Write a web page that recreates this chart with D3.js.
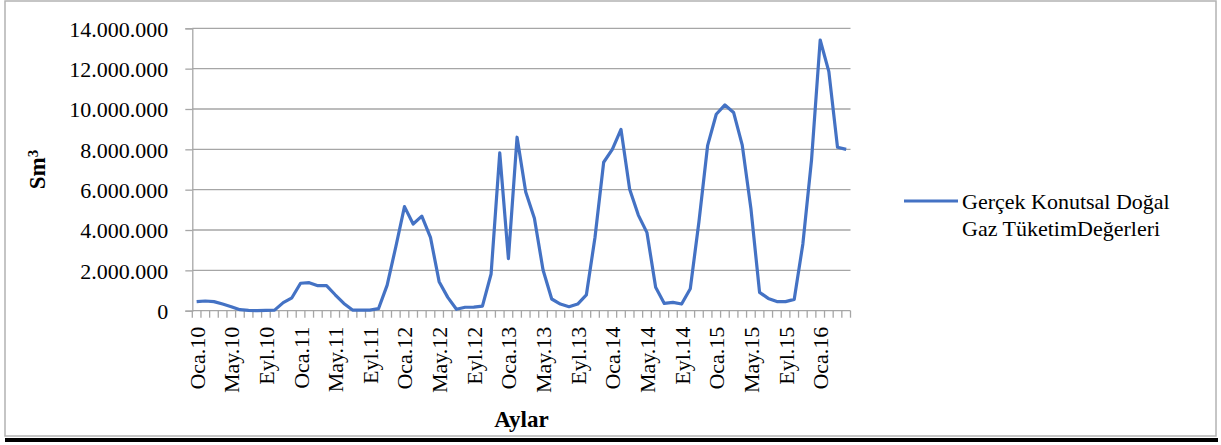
<!DOCTYPE html>
<html>
<head>
<meta charset="utf-8">
<script src="https://cdn.jsdelivr.net/npm/d3@7"></script>
<style>
  body { margin: 0; background: #fff; }
  svg { display: block; }
  svg text { font-family: "Liberation Serif", "Times New Roman", Tinos, "DejaVu Serif", serif !important; fill: #000; }
</style>
</head>
<body>
<svg id="chart" width="1221" height="445"></svg>
<script>
// month names and years used for the category labels
const monthNames = ["Oca", "Şub", "Mar", "Nis", "May", "Haz", "Tem", "Ağu", "Eyl", "Eki", "Kas", "Ara"];
const years = ["10", "11", "12", "13", "14", "15", "16"];

// monthly values (Sm3), Oca.10 .. Nis.16
const consumption = [
  450000, 480000, 450000, 330000, 200000, 50000, 20000, 0, 20000, 30000, 400000, 640000,
  1360000, 1390000, 1240000, 1240000, 790000, 360000, 30000, 30000, 30000, 100000, 1270000, 3170000,
  5160000, 4300000, 4690000, 3640000, 1440000, 660000, 70000, 170000, 180000, 230000, 1820000, 7830000,
  2580000, 8600000, 5880000, 4580000, 2020000, 580000, 330000, 200000, 330000, 780000, 3640000, 7360000,
  8000000, 8990000, 6020000, 4740000, 3870000, 1160000, 360000, 410000, 330000, 1090000, 4410000, 8180000,
  9740000, 10200000, 9830000, 8210000, 5070000, 910000, 610000, 450000, 450000, 560000, 3310000, 7470000,
  13420000, 11850000, 8100000, 8000000
];

const yTicks = [0, 2000000, 4000000, 6000000, 8000000, 10000000, 12000000, 14000000];
const seriesName = ["Gerçek Konutsal Doğal", "Gaz TüketimDeğerleri"];

const categories = consumption.map((d, i) => monthNames[i % 12] + "." + years[Math.floor(i / 12)]);

const svg = d3.select("#chart");

// outer frame and the dark strip below it
svg.append("rect")
  .attr("x", 5).attr("y", 438).attr("width", 1213).attr("height", 4)
  .attr("fill", "#000");
svg.append("rect")
  .attr("x", 5).attr("y", 1).attr("width", 1211).attr("height", 435)
  .attr("fill", "#fff").attr("stroke", "#b3b3b3").attr("stroke-width", 1.5);

const plotLeft = 192.3, plotRight = 850.5, plotTop = 28.3, plotBottom = 310.7;

const x = d3.scaleBand()
  .domain(categories)
  .range([plotLeft, plotRight])
  .padding(0);

const y = d3.scaleLinear()
  .domain([0, 14000000])
  .range([plotBottom, plotTop]);

const tr = d3.formatLocale({decimal: ",", thousands: ".", grouping: [3], currency: ["", ""]});
const fmt = tr.format(",.0f");

// gridlines
svg.append("g")
  .selectAll("line")
  .data(yTicks.filter(d => d > 0))
  .enter()
  .append("line")
  .attr("x1", plotLeft).attr("x2", plotRight)
  .attr("y1", d => y(d)).attr("y2", d => y(d))
  .attr("stroke", "#a6a6a6")
  .attr("stroke-width", 1.3);

// y axis
const yAxis = svg.append("g")
  .attr("transform", "translate(" + plotLeft + ",0)")
  .call(d3.axisLeft(y).tickValues(yTicks).tickFormat(fmt).tickSize(7).tickPadding(17));
yAxis.attr("font-family", null);
yAxis.select(".domain").attr("stroke", "#a6a6a6").attr("stroke-width", 1.3);
yAxis.selectAll(".tick line").attr("stroke", "#a6a6a6").attr("stroke-width", 1.3);
yAxis.selectAll("text")
  .style("font-size", "22px")
  .attr("dy", "0.35em")
  .attr("fill", "#000");

// x axis: ticks on category boundaries
const xg = svg.append("g");
xg.append("line")
  .attr("x1", plotLeft).attr("x2", plotRight)
  .attr("y1", plotBottom).attr("y2", plotBottom)
  .attr("stroke", "#a6a6a6").attr("stroke-width", 1.3);
xg.selectAll("line.tk")
  .data(categories.concat(["end"]))
  .enter()
  .append("line")
  .attr("class", "tk")
  .attr("x1", (d, i) => plotLeft + i * x.bandwidth())
  .attr("x2", (d, i) => plotLeft + i * x.bandwidth())
  .attr("y1", plotBottom).attr("y2", plotBottom + 7)
  .attr("stroke", "#a6a6a6").attr("stroke-width", 1.3);

xg.selectAll("text")
  .data(categories.filter((d, i) => i % 4 === 0))
  .enter()
  .append("text")
  .attr("transform", d => "translate(" + (x(d) + x.bandwidth() / 2 + 8) + "," + (plotBottom + 16) + ") rotate(-90)")
  .attr("text-anchor", "end")
  .style("font-size", "22px")
  .text(d => d);

// series line
const line = d3.line()
  .x((d, i) => x(categories[i]) + x.bandwidth() / 2)
  .y(d => y(d));

svg.append("path")
  .datum(consumption)
  .attr("d", line)
  .attr("fill", "none")
  .attr("stroke", "#4472C4")
  .attr("stroke-width", 3.2)
  .attr("stroke-linejoin", "round");

// axis titles
svg.append("text")
  .attr("x", (plotLeft + plotRight) / 2)
  .attr("y", 427)
  .attr("text-anchor", "middle")
  .style("font-size", "23px")
  .style("font-weight", "bold")
  .text("Aylar");

const yt = svg.append("text")
  .attr("transform", "translate(45," + ((plotTop + plotBottom) / 2) + ") rotate(-90)")
  .attr("text-anchor", "middle")
  .style("font-size", "23px")
  .style("font-weight", "bold");
yt.append("tspan").text("Sm");
yt.append("tspan").attr("dy", "-0.45em").style("font-size", "15px").text("3");

// legend
const lg = svg.append("g");
lg.append("line")
  .attr("x1", 904).attr("x2", 958)
  .attr("y1", 201).attr("y2", 201)
  .attr("stroke", "#4472C4").attr("stroke-width", 3.2);
lg.selectAll("text")
  .data(seriesName)
  .enter()
  .append("text")
  .attr("x", 962)
  .attr("y", (d, i) => 209 + i * 27)
  .style("font-size", "22px")
  .text(d => d);
</script>
</body>
</html>
